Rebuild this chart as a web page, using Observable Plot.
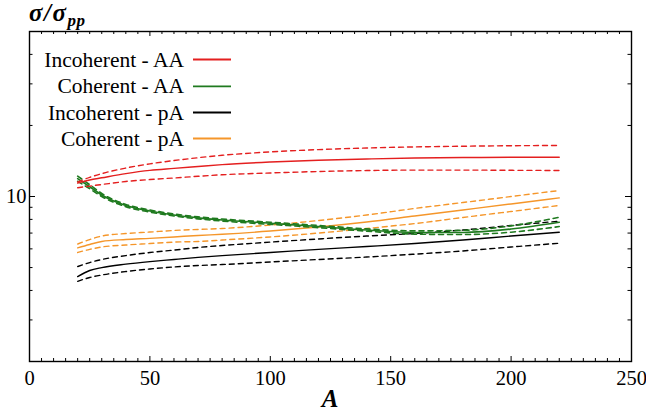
<!DOCTYPE html>
<html><head><meta charset="utf-8">
<script src="https://cdn.jsdelivr.net/npm/d3@7"></script>
<script src="https://cdn.jsdelivr.net/npm/@observablehq/plot@0.6"></script>
<style>
body{margin:0;background:#fff;}
#wrap{position:relative;width:646px;height:416px;font-family:"Liberation Serif","Times New Roman","DejaVu Serif","Noto Serif",serif;color:#000;}
#wrap svg{position:absolute;left:0;top:0;}
#ylab{position:absolute;left:29px;top:-1px;font-weight:bold;font-style:italic;font-size:25px;line-height:28px;white-space:nowrap;letter-spacing:1.5px;}
#ylab sub{font-size:17px;vertical-align:-5px;line-height:0;letter-spacing:0.5px;}
#xlab{position:absolute;left:29px;width:602px;top:385px;text-align:center;font-weight:bold;font-style:italic;font-size:25px;line-height:28px;}
</style>
</head><body>
<div id="wrap"></div>
<script>
// ---- data ----
const A = [20, 25, 30, 40, 50, 60, 70, 80, 100, 120, 140, 160, 180, 200, 220];

const incohAA    = [11.4, 11.75, 12.0, 12.5, 12.9, 13.15, 13.4, 13.65, 14.0, 14.25, 14.42, 14.55, 14.62, 14.66, 14.67];
const incohAAHi  = [11.52, 12.05, 12.5, 13.2, 13.75, 14.2, 14.6, 14.95, 15.45, 15.8, 16.05, 16.22, 16.33, 16.41, 16.45];
const incohAALo  = [10.89, 11.07, 11.24, 11.58, 11.80, 11.98, 12.18, 12.36, 12.58, 12.76, 12.88, 12.94, 12.94, 12.91, 12.89];

const cohAA      = [11.9, 11.0, 10.15, 9.16, 8.68, 8.35, 8.12, 7.95, 7.70, 7.46, 7.21, 7.04, 7.04, 7.28, 7.78];
const cohAAHi    = [12.2, 11.22, 10.3, 9.26, 8.77, 8.43, 8.20, 8.03, 7.78, 7.54, 7.29, 7.15, 7.19, 7.51, 8.17];
const cohAALo    = [11.6, 10.78, 10.0, 9.06, 8.59, 8.27, 8.04, 7.87, 7.62, 7.38, 7.13, 6.93, 6.90, 7.06, 7.46];

const incohpA    = [4.58, 4.86, 5.00, 5.17, 5.30, 5.41, 5.52, 5.62, 5.79, 5.97, 6.14, 6.32, 6.54, 6.80, 7.06];
const incohpAHi  = [5.05, 5.25, 5.41, 5.62, 5.79, 5.93, 6.08, 6.20, 6.41, 6.61, 6.80, 6.97, 7.21, 7.54, 7.86];
const incohpALo  = [4.37, 4.54, 4.65, 4.81, 4.93, 5.03, 5.10, 5.15, 5.28, 5.41, 5.54, 5.70, 5.88, 6.11, 6.34];

const cohpA      = [6.06, 6.26, 6.45, 6.57, 6.65, 6.74, 6.84, 6.92, 7.14, 7.43, 7.80, 8.27, 8.77, 9.30, 9.87];
const cohpAHi    = [6.29, 6.57, 6.80, 6.97, 7.07, 7.18, 7.25, 7.32, 7.57, 7.91, 8.35, 8.90, 9.43, 10.0, 10.6];
const cohpALo    = [5.79, 5.97, 6.11, 6.23, 6.32, 6.41, 6.45, 6.54, 6.74, 7.00, 7.32, 7.68, 8.15, 8.64, 9.16];

const seriesNames = ["Incoherent - AA", "Coherent - AA", "Incoherent - pA", "Coherent - pA"];
const seriesColors = ["#e41f1f", "#1f7a1f", "#000000", "#f5962a"];

const xTicks = [0, 50, 100, 150, 200, 250];
const yTicks = [10];
const xMinor = d3.range(0, 251, 5).filter(v => v % 50 !== 0);
const yMinor = [2, 3, 4, 5, 6, 7, 8, 9, 20, 30, 40];

// ---- layout ----
const W = 646, H = 416;
const mL = 29, mR = 15, mT = 31, mB = 55;
const pW = W - mL - mR, pH = H - mT - mB;
const SERIF = '"Liberation Serif", "Times New Roman", "DejaVu Serif", "Noto Serif", serif';

const groups = [
  [incohAA, incohAAHi, incohAALo],
  [cohAA, cohAAHi, cohAALo],
  [incohpA, incohpAHi, incohpALo],
  [cohpA, cohpAHi, cohpALo]
];
const rows = (vals) => A.map((a, i) => ({A: a, v: vals[i]}));

const marks = [];
// draw order: black, orange, green, red
[2, 3, 1, 0].forEach(g => {
  const [mid, hi, lo] = groups[g];
  const c = seriesColors[g];
  const sw = g === 1 ? 1.6 : 1.4;
  marks.push(Plot.line(rows(hi), {x: "A", y: "v", stroke: c, strokeWidth: sw, strokeDasharray: "5,4", curve: "monotone-x"}));
  marks.push(Plot.line(rows(lo), {x: "A", y: "v", stroke: c, strokeWidth: sw, strokeDasharray: "5,4", curve: "monotone-x"}));
  marks.push(Plot.line(rows(mid), {x: "A", y: "v", stroke: c, strokeWidth: sw, curve: "monotone-x"}));
});

// inward ticks on all four sides
const tk = (len) => ({
  bottom: {insetTop: pH - len}, top: {insetBottom: pH - len},
  left: {insetRight: pW - len}, right: {insetLeft: pW - len}
});
for (const [vals, len] of [[xMinor, 3], [xTicks, 5]]) {
  const t = tk(len);
  marks.push(Plot.tickX(vals, {x: d => d, stroke: "black", strokeWidth: 1, ...t.bottom}));
  marks.push(Plot.tickX(vals, {x: d => d, stroke: "black", strokeWidth: 1, ...t.top}));
}
for (const [vals, len] of [[yMinor, 3.5], [yTicks, 6]]) {
  const t = tk(len);
  marks.push(Plot.tickY(vals, {y: d => d, stroke: "black", strokeWidth: 1, ...t.left}));
  marks.push(Plot.tickY(vals, {y: d => d, stroke: "black", strokeWidth: 1, ...t.right}));
}
marks.push(Plot.frame({stroke: "black", strokeWidth: 1.4}));

const chart = Plot.plot({
  width: W, height: H,
  marginLeft: mL, marginRight: mR, marginTop: mT, marginBottom: mB,
  style: {fontFamily: SERIF, fontSize: "20.5px", background: "white", color: "black"},
  x: {domain: [0, 250], ticks: xTicks, tickSize: 0, tickPadding: 9, label: null},
  y: {type: "log", domain: [2, 50], ticks: yTicks, tickSize: 0, tickPadding: 3, tickFormat: d => String(d), label: null},
  marks
});

const wrap = document.getElementById("wrap");
wrap.appendChild(chart);

// legend drawn into the chart's SVG
const svg = d3.select(chart);
const leg = svg.append("g").attr("font-family", SERIF).attr("font-size", "21.5px");
const rowCenters = [59.5, 86.3, 112.5, 138.5];
seriesNames.forEach((name, i) => {
  leg.append("text")
    .attr("x", 184).attr("y", rowCenters[i]).attr("dy", "0.33em")
    .attr("text-anchor", "end").attr("fill", "black").text(name);
  leg.append("line")
    .attr("x1", 193).attr("x2", 231).attr("y1", rowCenters[i]).attr("y2", rowCenters[i])
    .attr("stroke", seriesColors[i]).attr("stroke-width", 1.8);
});

const yl = document.createElement("div");
yl.id = "ylab";
yl.innerHTML = "σ/σ<sub>pp</sub>";
wrap.appendChild(yl);

const xl = document.createElement("div");
xl.id = "xlab";
xl.textContent = "A";
wrap.appendChild(xl);
</script>
</body></html>
